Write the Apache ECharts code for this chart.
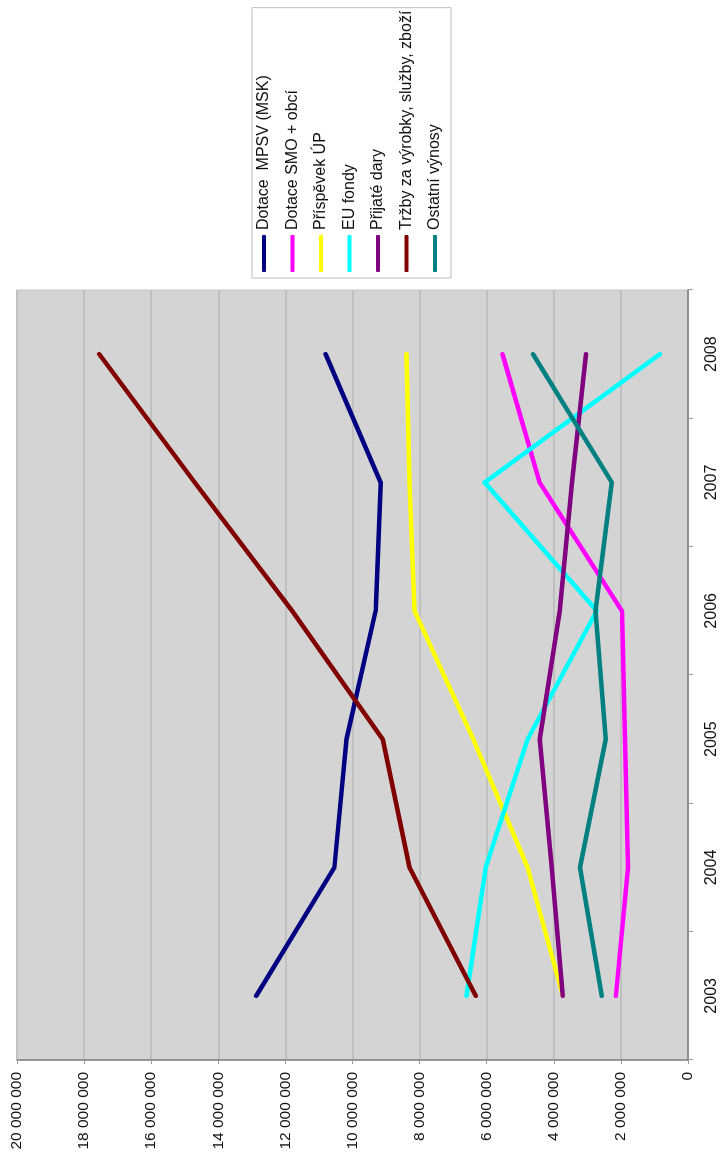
<!DOCTYPE html>
<html>
<head>
<meta charset="utf-8">
<script src="https://cdn.jsdelivr.net/npm/echarts@6/dist/echarts.min.js"></script>
<style>
  html, body { margin: 0; padding: 0; width: 726px; height: 1155px; overflow: hidden; background: #fff; }
  /* graf je v originale otoceny o 90 stupnu proti smeru hodin */
  #chart {
    position: absolute; left: 0; top: 0;
    width: 1155px; height: 726px;
    transform-origin: 0 0;
    transform: translateY(1155px) rotate(-90deg);
  }
</style>
</head>
<body>
<div id="chart"></div>
<script>
// roky
const years = ['2003', '2004', '2005', '2006', '2007', '2008']
// hodnoty (Kč)
const mpsv = [12870000, 10540000, 10180000, 9310000, 9160000, 10800000]
const smo = [2150000, 1790000, 1880000, 1970000, 4420000, 5530000]
const up = [3730000, 4780000, 6400000, 8150000, 8300000, 8390000]
const eu = [6600000, 6030000, 4780000, 2720000, 6060000, 840000]
const dary = [3730000, 4060000, 4420000, 3820000, 3460000, 3040000]
const trzby = [6330000, 8300000, 9100000, 11800000, 14700000, 17550000]
const ostatni = [2570000, 3220000, 2450000, 2760000, 2270000, 4620000]

const seriesNames = ['Dotace  MPSV (MSK)', 'Dotace SMO + obcí', 'Příspěvek ÚP', 'EU fondy', 'Přijaté dary', 'Tržby za výrobky, služby, zboží', 'Ostatní výnosy']
const seriesData = [mpsv, smo, up, eu, dary, trzby, ostatni]
const colors = ['#000080', '#ff00ff', '#ffff00', '#00ffff', '#800080', '#800000', '#008080']

const font = '"Liberation Sans", Arial, sans-serif'

let myChart = echarts.init(document.getElementById('chart'))

let option = {
  animation: false,
  color: colors,
  textStyle: { fontFamily: font },
  grid: {
    left: 95,
    right: 290,
    top: 17,
    bottom: 38,
    show: true,
    backgroundColor: '#d4d4d4',
    borderColor: '#c6c6c6',
    borderWidth: 1
  },
  legend: {
    orient: 'vertical',
    left: 877,
    top: 252,
    padding: [3, 3, 7, 6],
    itemGap: 10.5,
    itemWidth: 37,
    itemHeight: 4,
    icon: 'roundRect',
    backgroundColor: '#fff',
    borderColor: '#bdbdbd',
    borderWidth: 1,
    borderRadius: 0,
    textStyle: { fontSize: 16, color: '#111', fontFamily: font, lineHeight: 18 },
    data: seriesNames
  },
  xAxis: {
    type: 'category',
    data: years,
    boundaryGap: true,
    axisLine: { lineStyle: { color: '#808080', width: 1.5 } },
    axisTick: { show: true, length: 5, lineStyle: { color: '#9a9a9a' } },
    axisLabel: { fontSize: 16, color: '#111', margin: 16, fontFamily: font },
    splitLine: { show: false }
  },
  yAxis: {
    type: 'value',
    min: 0,
    max: 20000000,
    interval: 2000000,
    axisLine: { show: true, lineStyle: { color: '#808080', width: 1.5 } },
    axisTick: { show: true, length: 4, lineStyle: { color: '#9a9a9a' } },
    axisLabel: {
      fontSize: 15.5,
      color: '#111',
      margin: 12,
      fontFamily: font,
      formatter: function (v) {
        return String(v).replace(/\B(?=(\d{3})+(?!\d))/g, ' ')
      }
    },
    splitLine: { show: true, lineStyle: { color: '#bababa', width: 1.5 } }
  },
  series: seriesNames.map(function (name, i) {
    return {
      name: name,
      type: 'line',
      data: seriesData[i],
      showSymbol: false,
      symbol: 'none',
      lineStyle: { width: 4.5, color: colors[i], cap: 'round', join: 'round' },
      itemStyle: { color: colors[i] }
    }
  })
}
myChart.setOption(option)
</script>
</body>
</html>
